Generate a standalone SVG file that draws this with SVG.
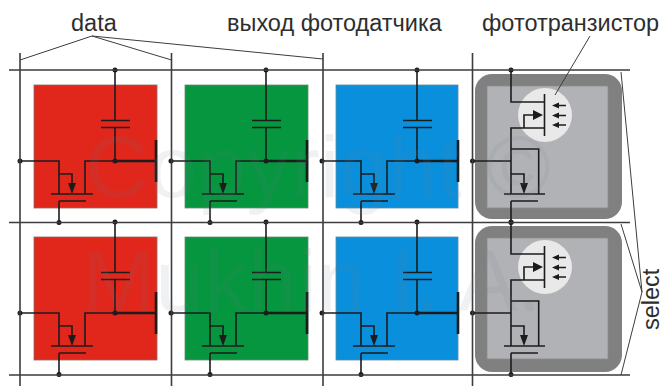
<svg xmlns="http://www.w3.org/2000/svg" width="664" height="386" viewBox="0 0 664 386">
<style>
.lab{font-family:"Liberation Sans",Arial,sans-serif;font-size:23.500px;fill:#2e2e2e}
.wm{font-family:"Liberation Sans",Arial,sans-serif;font-size:88px;fill:#6f7f8c;fill-opacity:.11}
.grid{fill:none;stroke:#3d3d3d;stroke-width:1.6}
.thin{fill:none;stroke:#3d3d3d;stroke-width:1}
.w{fill:none;stroke:#1c1c1c;stroke-width:1.6}
.tk{fill:none;stroke:#1c1c1c;stroke-width:2.6}
.d{fill:#1c1c1c}
.red{fill:#e1261c;stroke:#8a6a60;stroke-width:.8}
.green{fill:#05963f;stroke:#6a8a70;stroke-width:.8}
.blue{fill:#0a8fdc;stroke:#5a8aa0;stroke-width:.8}
.outer{fill:#808080}
.inner{fill:#b1b2b5;stroke:#8a8a8a;stroke-width:.8}
.photo{fill:#e9e9e9}
</style>
<defs>
<g id="tft">
<path class="w" d="M20 161H59V194M85 194V161H115M51 194H93M59 201H86M59 201V222M59 174H72V184"/>
<polygon class="d" points="68,183 76,183 72,194"/>
<circle class="d" cx="20" cy="161" r="2.500"/>
<circle class="d" cx="59" cy="222.500" r="2.500"/>
</g>
<g id="cell">
<use href="#tft"/>
<path class="w" d="M115 70V120.500M115 127.500V161M101 120.500H130M101 127.500H130"/>
<path class="tk" d="M115 161H156M156 140V182"/>
<circle class="d" cx="115" cy="70" r="2.500"/>
<circle class="d" cx="115" cy="161" r="2.500"/>
</g>
<g id="photo">
<circle class="photo" cx="545" cy="115" r="27"/>
<path class="w" d="M511 70V102H544M544.500 94V136M544 128H511V194M511 149H538.700V194M472.500 161H511M504 194H545M511 201H538M511 201V222M511 174H524V184M524 128V115H534"/>
<polygon class="d" points="520,183 528,183 524,194"/>
<polygon class="d" points="533,110 533,120 543,115"/>
<path class="w" d="M558 105.500H566M558 115.500H566M558 125H566"/>
<polygon class="d" points="552,105.500 559,102.500 559,108.500"/>
<polygon class="d" points="552,115.500 559,112.500 559,118.500"/>
<polygon class="d" points="552,125 559,122 559,128"/>
<circle class="d" cx="511" cy="70" r="2.500"/>
<circle class="d" cx="472.500" cy="161" r="2.500"/>
<circle class="d" cx="511" cy="222.500" r="2.500"/>
</g>
</defs>
<rect width="664" height="386" fill="#fff"/>
<g id="pixel-red-1"><rect class="red" x="34" y="85" width="123" height="123"/><use href="#cell"/></g>
<g id="pixel-green-1"><rect class="green" x="185" y="85" width="123" height="123"/><use href="#cell" x="151"/></g>
<g id="pixel-blue-1"><rect class="blue" x="336" y="85" width="122" height="123"/><use href="#cell" x="302"/></g>
<g id="pixel-photo-1"><rect class="outer" x="475" y="74" width="147" height="145" rx="17"/><rect class="inner" x="487" y="86" width="121" height="122"/><use href="#photo"/></g>
<g id="pixel-red-2"><rect class="red" x="34" y="237" width="123" height="123"/><use href="#cell" y="152"/></g>
<g id="pixel-green-2"><rect class="green" x="185" y="237" width="123" height="123"/><use href="#cell" x="151" y="152"/></g>
<g id="pixel-blue-2"><rect class="blue" x="336" y="237" width="122" height="123"/><use href="#cell" x="302" y="152"/></g>
<g id="pixel-photo-2"><rect class="outer" x="475" y="226" width="147" height="146" rx="17"/><rect class="inner" x="487" y="238" width="121" height="121"/><use href="#photo" y="152"/></g>
<g id="connectors">
<path class="grid" d="M9 70H630M9 222.500H630M9 375H630M20 53V386M171.500 53V386M323 53V386M472.500 53V386"/>
<path class="thin" d="M20 60L92 36L171.500 60M92 36L323 59M590 36L555 95M621 72L642 292L621 375M621 224L642 292"/>
</g>
<g id="labels">
<text class="lab" x="71" y="31">data</text>
<text class="lab" x="227" y="31">выход фотодатчика</text>
<text class="lab" x="482" y="31">фототранзистор</text>
<text class="lab" transform="translate(658.500 330) rotate(-90)">select</text>
</g>
<g id="watermark">
<text class="wm" x="85" y="197">Copyright ©</text>
<text class="wm" x="82" y="311">Mukhin I. A.</text>
</g>
</svg>
